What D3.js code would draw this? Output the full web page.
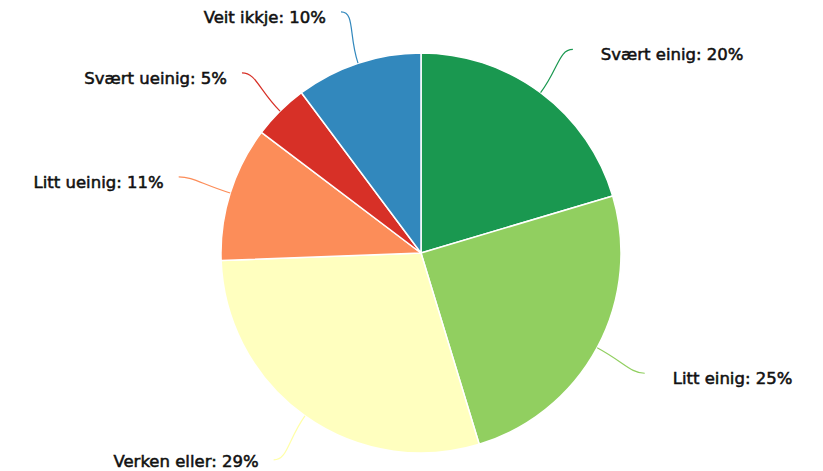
<!DOCTYPE html>
<html>
<head>
<meta charset="utf-8">
<script src="https://cdn.jsdelivr.net/npm/d3@7"></script>
<style>
  body { margin: 0; background: #fff; }
  svg { display: block; }
  .label { font-family: "DejaVu Sans", sans-serif; font-size: 16.5px; fill: #111; stroke: #111; stroke-width: 0.55px; }
</style>
</head>
<body>
<svg></svg>
<script>
let width = 823;
let height = 471;

let categories = ['Svært einig', 'Litt einig', 'Verken eller', 'Litt ueinig', 'Svært ueinig', 'Veit ikkje'];
let shares = [20.4, 24.9, 29.1, 10.9, 4.5, 10.2];
let shownPercent = [20, 25, 29, 11, 5, 10];
let colors = ['#1a9850', '#91cf60', '#ffffbf', '#fc8d59', '#d73027', '#3288bd'];

let cx = 421;
let cy = 253;
let radius = 200;
let labelRadius = radius + 54;

let data = categories.map((c, i) => ({ name: c, value: shares[i], pct: shownPercent[i], color: colors[i] }));

let svg = d3.select('svg').attr('width', width).attr('height', height);
let g = svg.append('g').attr('transform', `translate(${cx},${cy})`);

let pie = d3.pie().sort(null).value((d) => d.value);
let arc = d3.arc().innerRadius(0).outerRadius(radius);
let arcs = pie(data);

g.selectAll('path.slice')
  .data(arcs)
  .enter()
  .append('path')
  .attr('class', 'slice')
  .attr('d', arc)
  .attr('fill', (d) => d.data.color)
  .attr('stroke', '#fff')
  .attr('stroke-width', 1.5)
  .attr('stroke-linejoin', 'round');

// point at distance r along an angle measured clockwise from 12 o'clock
function polar(a, r) {
  return [Math.sin(a) * r, -Math.cos(a) * r];
}

function midAngle(d) {
  return (d.startAngle + d.endAngle) / 2;
}

function connector(d) {
  let a = midAngle(d);
  let edge = polar(a, radius);
  let c1 = polar(a, radius + 30);
  let end = polar(a, labelRadius);
  let left = end[0] < 0;
  let c2 = [end[0] + (left ? 14 : -14), end[1]];
  return `M${edge[0]},${edge[1]} C${c1[0]},${c1[1]} ${c2[0]},${c2[1]} ${end[0]},${end[1]}`;
}

g.selectAll('path.connector')
  .data(arcs)
  .enter()
  .append('path')
  .attr('class', 'connector')
  .attr('d', connector)
  .attr('fill', 'none')
  .attr('stroke', (d) => d.data.color === '#ffffbf' ? '#ffffa8' : d.data.color)
  .attr('stroke-width', 1.2);

// keep labels inside the frame
let maxLabelY = height - cy - 10;

g.selectAll('text.label')
  .data(arcs)
  .enter()
  .append('text')
  .attr('class', 'label')
  .attr('x', (d) => {
    let end = polar(midAngle(d), labelRadius);
    return end[0] + (end[0] < 0 ? -15 : 28);
  })
  .attr('y', (d) => Math.min(polar(midAngle(d), labelRadius)[1] + 5, maxLabelY))
  .attr('dy', '0.35em')
  .attr('text-anchor', (d) => (polar(midAngle(d), 1)[0] < 0 ? 'end' : 'start'))
  .text((d) => `${d.data.name}: ${d.data.pct}%`);
</script>
</body>
</html>
